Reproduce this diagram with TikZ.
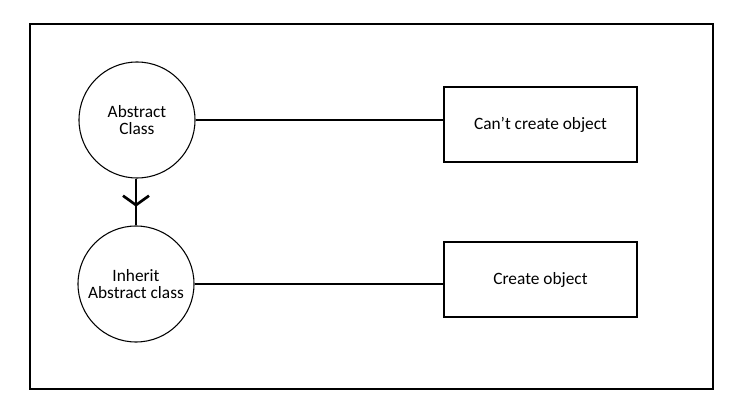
\documentclass[tikz,border=0pt]{standalone}
\usepackage{fontspec}
\setmainfont{Carlito}
\usetikzlibrary{arrows.meta,decorations.markings}
\tikzset{
    %Define standard arrow tip
    >={Straight Barb[length=7pt,width=19.5pt,line width=2pt]},
    %Define style for circles
    classnode/.style={
           circle,
           draw=black, line width=0.8pt,
           minimum size=87pt,
           inner sep=0pt,
           align=center,
           font=\fontsize{13}{12.75}\selectfont},
    %Define style for boxes
    resultbox/.style={
           rectangle,
           draw=black, line width=0.8pt,
           minimum width=144.75pt,
           minimum height=56.25pt,
           font=\fontsize{13}{12.75}\selectfont,
           text centered},
    % Define line styles
    link/.style={
           line width=1.5pt},
    inherit/.style={
           line width=1.5pt,
           postaction={decorate},
           decoration={markings,
              mark=at position 0.6 with {\arrow{>}}}}
}
\begin{document}
\begin{tikzpicture}[x=0.75pt,y=-0.75pt]
\useasboundingbox (0,0) rectangle (747,420);

 %frame
\draw[line width=1pt] (30,24) rectangle (713,389);

 %nodes
\node[classnode] (1) at (137,120) {Abstract\\Class};
\node[classnode] (2) at (136,284) {Inherit\\Abstract class};
\node[resultbox] (3) at (540.5,124.5) {Can’t create object};
\node[resultbox] (4) at (540.5,279.5) {Create object};

 %links
\draw[inherit] (1.south -| 2.north) -- (2.north);
\draw[link] (1.east) -- (1.east -| 3.west);
\draw[link] (2.east) -- (2.east -| 4.west);

\end{tikzpicture}
\end{document}
